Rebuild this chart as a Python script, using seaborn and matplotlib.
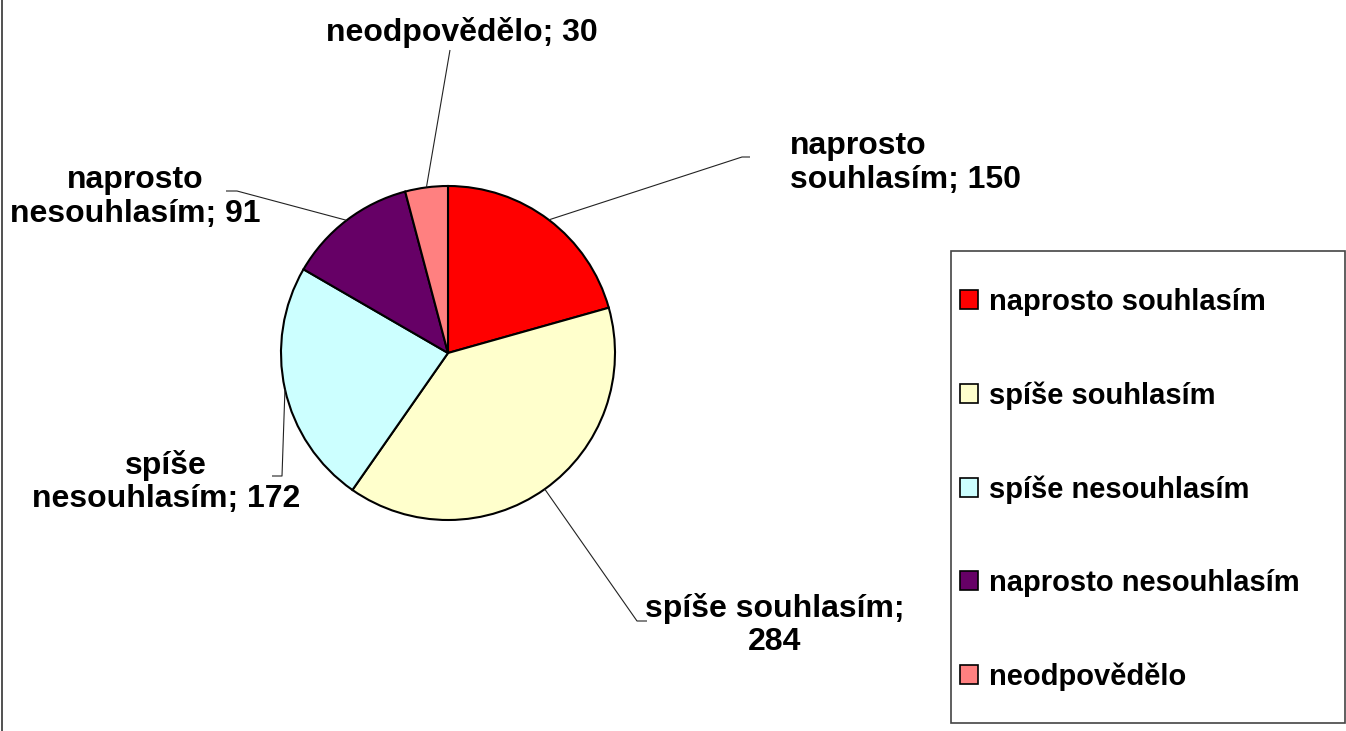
import numpy as np
import matplotlib
matplotlib.use("Agg")
import matplotlib.pyplot as plt
import seaborn as sns
from matplotlib.patches import Rectangle, Patch
from matplotlib.lines import Line2D

# ---- data ----
categories = ["naprosto souhlasím", "spíše souhlasím", "spíše nesouhlasím",
              "naprosto nesouhlasím", "neodpovědělo"]
values = [150, 284, 172, 91, 30]
label_texts = ["naprosto\nsouhlasím; 150", "spíše souhlasím;\n284",
               "spíše\nnesouhlasím; 172", "naprosto\nnesouhlasím; 91",
               "neodpovědělo; 30"]
colors = ["#FF0000", "#FFFFCC", "#CCFFFF", "#660066", "#FF8080"]

sns.set_theme(style="white")
plt.rcParams['font.family'] = ['Liberation Sans', 'DejaVu Sans']
plt.rcParams['text.color'] = 'black'

W, H = 1346, 731
fig = plt.figure(figsize=(W / 100, H / 100), dpi=100)
ax = fig.add_axes([0, 0, 1, 1])

def Y(y):
    return H - y

cx, cy, R = 448, 353, 167
wedges, _ = ax.pie(values, colors=colors, startangle=90, counterclock=False,
                   center=(cx, Y(cy)), radius=R,
                   wedgeprops=dict(edgecolor="black", linewidth=1.5))
ax.set_xlim(0, W)
ax.set_ylim(0, H)
ax.set_aspect("auto")
ax.axis("off")

# leader-line elbows (x_elbow, y_elbow, x_end) and label layout
elbows = [(742, 157, 750), (637, 621, 647), (282, 476, 272), (237, 191, 226), (450, 50, 450)]
label_pos = [(790, 163, "left"), (775, 625, "center"), (166, 482, "center"),
             (135, 197, "center"), (462, 32, "center")]

for w, (ex, ey, ex2), (lx, ly, ma), txt in zip(wedges, elbows, label_pos, label_texts):
    mid = np.deg2rad((w.theta1 + w.theta2) / 2)
    px = cx + R * np.cos(mid)
    py = Y(cy) + R * np.sin(mid)
    ax.plot([px, ex, ex2], [py, Y(ey), Y(ey)], color="#222222", lw=0.8,
            solid_capstyle="butt")
    ha = "left" if ma == "left" else "center"
    ax.text(lx, Y(ly), txt, ha=ha, va="center", multialignment=ma,
            fontsize=23, fontweight="bold", color="black", linespacing=1.15)

# legend frame
ax.add_patch(Rectangle((951, Y(723)), 1345 - 951, 723 - 251, facecolor="white",
                       edgecolor="#444444", lw=1.2, zorder=1))
handles = [Patch(facecolor=c, edgecolor="black", lw=1.2) for c in colors]
leg = ax.legend(handles, categories, loc="upper left", frameon=False,
                bbox_to_anchor=(960 / W, Y(288) / H), bbox_transform=fig.transFigure,
                borderpad=0, borderaxespad=0, labelspacing=2.24,
                handlelength=0.6, handleheight=0.6, handletextpad=0.38,
                prop=dict(size=21, weight="bold"))
for t in leg.get_texts():
    t.set_color("black")
leg.set_zorder(5)

# left border of the chart area
fig.add_artist(Line2D([2 / W, 2 / W], [0, 1], transform=fig.transFigure,
                      color="#333333", lw=1.2))

fig.savefig("out.png", dpi=100, facecolor="white")
